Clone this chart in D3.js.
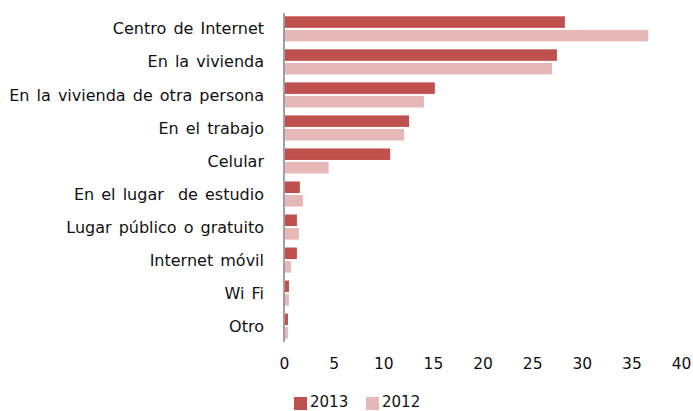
<!DOCTYPE html>
<html>
<head>
<meta charset="utf-8">
<script src="https://cdn.jsdelivr.net/npm/d3@7"></script>
<style>
  body { margin: 0; background: #fff; }
  svg text { font-family: "DejaVu Sans", sans-serif; fill: #111; }
</style>
</head>
<body>
<svg id="chart" width="693" height="411"></svg>
<script>
// categories (top to bottom) and series values in percent
const categories = ["Centro de Internet", "En la vivienda", "En la vivienda de otra persona",
  "En el trabajo", "Celular", "En el lugar  de estudio", "Lugar público o gratuito",
  "Internet móvil", "Wi Fi", "Otro"];
const values2013 = [28.3, 27.5, 15.2, 12.6, 10.7, 1.6, 1.3, 1.3, 0.5, 0.4];
const values2012 = [36.7, 27.0, 14.1, 12.1, 4.5, 1.9, 1.5, 0.7, 0.5, 0.4];
const seriesNames = ["2013", "2012"];
const xTicks = [0, 5, 10, 15, 20, 25, 30, 35, 40];

const colors = { "2013": "#C0504D", "2012": "#E6B9B8" };

const svg = d3.select("#chart");

// scales
let x = d3.scaleLinear().domain([0, 40]).range([284, 681]);
let y = d3.scaleBand().domain(categories).range([13, 342]).paddingInner(0.24).paddingOuter(0.1);
let ySub = d3.scaleBand().domain(seriesNames).range([0, y.bandwidth()]).paddingInner(0.15);

// bars
let groups = svg.append("g").selectAll("g")
  .data(categories)
  .enter().append("g")
  .attr("transform", d => "translate(0," + y(d) + ")");

groups.selectAll("rect")
  .data((d, i) => [{ s: "2013", v: values2013[i] }, { s: "2012", v: values2012[i] }])
  .enter().append("rect")
  .attr("x", x(0))
  .attr("y", d => ySub(d.s))
  .attr("height", ySub.bandwidth())
  .attr("width", d => x(d.v) - x(0))
  .attr("fill", d => colors[d.s]);

// category labels
let yAxis = d3.axisLeft(y).tickSize(0).tickPadding(0);
let gy = svg.append("g").attr("transform", "translate(264,0)").call(yAxis);
gy.select(".domain").remove();
gy.selectAll("text")
  .style("font-size", "16px")
  .style("word-spacing", "2px")
  .style("white-space", "pre")
  .attr("dy", "0.35em");

// vertical axis line
svg.append("line")
  .attr("x1", x(0)).attr("x2", x(0))
  .attr("y1", 13).attr("y2", 342)
  .attr("stroke", "#a0a0a0").attr("stroke-width", 2);

// x axis ticks (labels only)
let xAxis = d3.axisBottom(x).tickValues(xTicks).tickSize(0).tickPadding(0);
let gx = svg.append("g").attr("transform", "translate(0,358)").call(xAxis);
gx.select(".domain").remove();
gx.selectAll("text").style("font-size", "15.5px").attr("dy", "0.71em");

// legend
let legend = svg.append("g").selectAll("g")
  .data(seriesNames)
  .enter().append("g")
  .attr("transform", (d, i) => "translate(" + (294 + i * 72) + ",394)");
legend.append("rect").attr("y", 3).attr("width", 13).attr("height", 13).attr("fill", d => colors[d]);
legend.append("text").attr("x", 16).attr("y", 13).style("font-size", "15px").text(d => d);
</script>
</body>
</html>
